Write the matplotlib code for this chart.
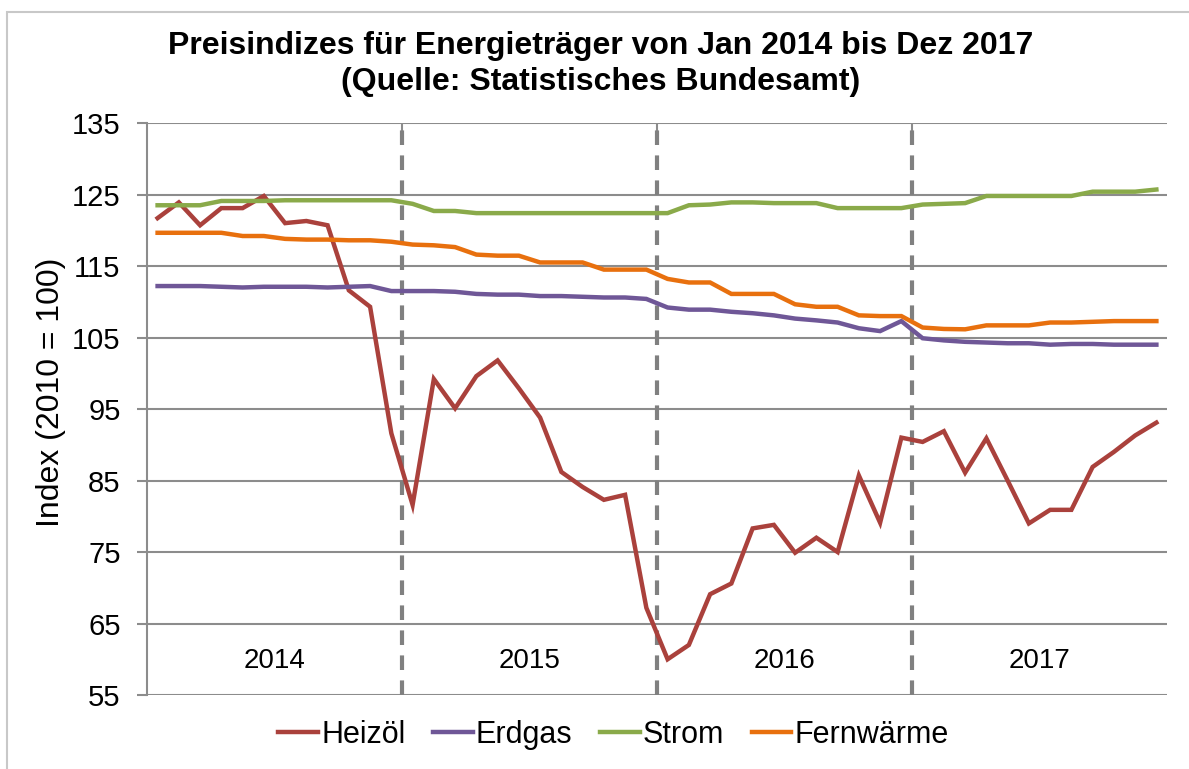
import numpy as np
import matplotlib.pyplot as plt
from matplotlib.patches import Rectangle

plt.rcParams['font.family'] = ['Liberation Sans', 'DejaVu Sans']

# Monatswerte Jan 2014 .. Dez 2017 (Index 2010 = 100)
years = ['2014', '2015', '2016', '2017']

heizoel = [121.7, 123.9, 120.7, 123.1, 123.1, 124.8, 121.0, 121.3, 120.7, 111.6, 109.3, 91.6,
           81.6, 99.2, 95.1, 99.6, 101.8, 97.9, 93.8, 86.2, 84.1, 82.3, 83.0, 67.2,
           60.0, 62.0, 69.1, 70.6, 78.3, 78.8, 74.9, 77.0, 75.0, 85.7, 79.1, 91.0,
           90.4, 91.9, 86.1, 90.9, 85.0, 79.0, 80.9, 80.9, 86.9, 89.0, 91.3, 93.1]

erdgas = [112.2, 112.2, 112.2, 112.1, 112.0, 112.1, 112.1, 112.1, 112.0, 112.1, 112.2, 111.5,
          111.5, 111.5, 111.4, 111.1, 111.0, 111.0, 110.8, 110.8, 110.7, 110.6, 110.6, 110.4,
          109.2, 108.9, 108.9, 108.6, 108.4, 108.1, 107.65, 107.4, 107.1, 106.3, 105.9, 107.3,
          104.9, 104.6, 104.4, 104.3, 104.2, 104.2, 104.0, 104.1, 104.1, 104.0, 104.0, 104.0]

strom = [123.5, 123.5, 123.5, 124.1, 124.1, 124.1, 124.2, 124.2, 124.2, 124.2, 124.2, 124.2,
         123.7, 122.7, 122.7, 122.4, 122.4, 122.4, 122.4, 122.4, 122.4, 122.4, 122.4, 122.4,
         122.4, 123.5, 123.6, 123.9, 123.9, 123.8, 123.8, 123.8, 123.1, 123.1, 123.1, 123.1,
         123.6, 123.7, 123.8, 124.8, 124.8, 124.8, 124.8, 124.8, 125.4, 125.4, 125.4, 125.7]

fernwaerme = [119.65, 119.65, 119.65, 119.65, 119.2, 119.2, 118.8, 118.7, 118.7, 118.6, 118.6, 118.4,
              118.0, 117.9, 117.65, 116.6, 116.45, 116.45, 115.5, 115.5, 115.5, 114.5, 114.5, 114.5,
              113.2, 112.7, 112.7, 111.1, 111.1, 111.1, 109.65, 109.3, 109.3, 108.1, 108.0, 108.0,
              106.4, 106.2, 106.15, 106.7, 106.7, 106.7, 107.1, 107.1, 107.2, 107.3, 107.3, 107.3]

names = ['Heizöl', 'Erdgas', 'Strom', 'Fernwärme']
colors = ['#AA413C', '#6F5797', '#8AAA4A', '#E8700E']

fig = plt.figure(figsize=(11.89, 7.69), dpi=100)
ax = fig.add_axes([0.1236, 0.0962, 0.8579, 0.7438])

# Rahmen um das Diagramm
fig.patches.append(Rectangle((0.006, -0.05), 1.1, 1.035, transform=fig.transFigure,
                             fill=False, edgecolor='#C8C8C8', linewidth=1.5))

x = np.arange(len(heizoel))
for vals, name, c in zip([heizoel, erdgas, strom, fernwaerme], names, colors):
    ax.plot(x, vals, color=c, linewidth=3.2, label=name, solid_joinstyle='miter', zorder=3)

ax.set_xlim(-0.5, len(x) - 0.5)
ax.set_ylim(55, 135)
ax.set_yticks(np.arange(55, 136, 10))
ax.grid(axis='y', color='#8C8C8C', linewidth=1.5)
ax.set_axisbelow(True)

# Jahresgrenzen
bounds = [11.5, 23.5, 35.5]
for b in bounds:
    ax.axvline(b, color='#808080', linewidth=3, linestyle=(0, (3.5, 2.5)), zorder=2)
for i, yr in enumerate(years):
    ax.text(5.5 + 12 * i, 59.7, yr, ha='center', va='center', fontsize=20)

ax.set_xticks(bounds)
ax.tick_params(axis='x', which='both', bottom=False, top=True, labelbottom=False,
               direction='in', length=7, color='#8C8C8C', width=1.5)
ax.tick_params(axis='y', direction='out', length=7, color='#8C8C8C', width=1.5,
               labelsize=21, pad=12)

for s in ['top', 'right', 'bottom']:
    ax.spines[s].set_visible(False)
ax.spines['left'].set_color('#8C8C8C')
ax.spines['left'].set_linewidth(1.5)

ax.set_ylabel('Index (2010 = 100)', fontsize=23, labelpad=6)
ax.yaxis.set_label_coords(-0.079, 0.53)

fig.text(0.505, 0.917, 'Preisindizes für Energieträger von Jan 2014 bis Dez 2017\n(Quelle: Statistisches Bundesamt)',
         ha='center', va='center', fontsize=23, fontweight='bold', linespacing=1.25)

fig.legend(loc='center', bbox_to_anchor=(0.516, 0.044), ncol=4, frameon=False,
           fontsize=22, handlelength=1.3, handletextpad=0.1, columnspacing=0.9)

fig.savefig('out.png', dpi=100)
